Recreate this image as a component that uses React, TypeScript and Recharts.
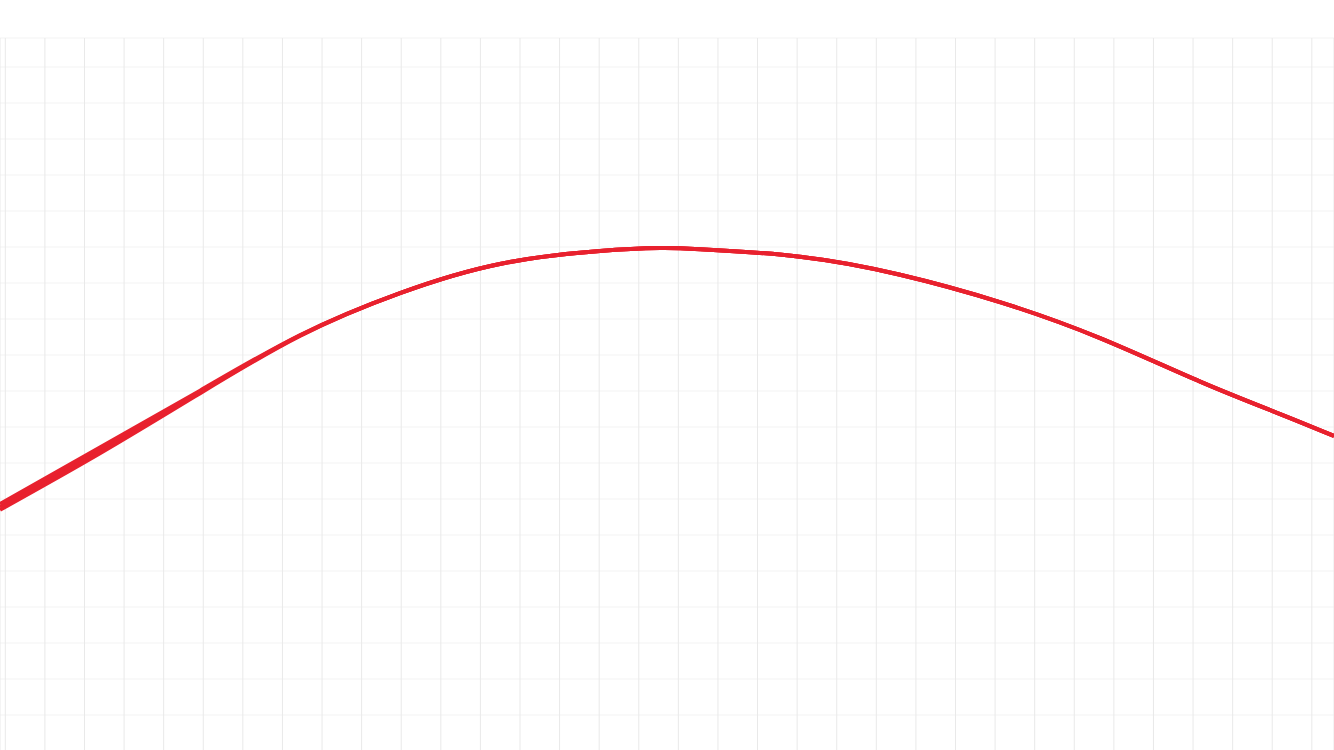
import React from "react";
import { LineChart, Line, XAxis, YAxis, CartesianGrid } from "recharts";

// x positions in grid units, y values in grid units
const xValues = [-0.134, 2.39, 4.92, 7.44, 9.97, 12.49, 15.02, 16.54, 17.55, 20.07, 22.6, 25.12, 27.65, 30.18, 32.2, 33.56];
const mainValues = [6.86, 8.43, 10.01, 11.55, 12.72, 13.53, 13.89, 13.97, 13.94, 13.73, 13.23, 12.47, 11.47, 10.26, 9.36, 8.75];
const midValues = [6.78, 8.35, 9.97, 11.54, 12.72, 13.53, 13.89, 13.97, 13.94, 13.73, 13.23, 12.47, 11.47, 10.26, 9.36, 8.75];
const lowerValues = [6.7, 8.27, 9.94, 11.53, 12.72, 13.53, 13.89, 13.97, 13.94, 13.73, 13.23, 12.47, 11.47, 10.26, 9.36, 8.75];

const xTicks = Array.from({ length: 34 }, (_, i) => i);
const yTicks = Array.from({ length: 20 }, (_, i) => i);

const data = xValues.map((x, i) => ({ x, main: mainValues[i], mid: midValues[i], lower: lowerValues[i] }));

export default function App() {
  return (
    <div style={{ position: "absolute", left: 0, top: 0, width: 1334, height: 750, overflow: "hidden", background: "#fff" }}>
      <LineChart width={1334} height={751} data={data} margin={{ top: 38, right: 0, bottom: 0, left: 0 }}>
        <CartesianGrid horizontal={true} vertical={false} stroke="#f3f3f3" strokeWidth={1} />
        <CartesianGrid horizontal={false} vertical={true} stroke="#e9e9e9" strokeWidth={1} />
        <XAxis type="number" dataKey="x" domain={[-0.134, 33.56]} ticks={xTicks} hide allowDataOverflow />
        <YAxis type="number" domain={[0, 19.806]} ticks={yTicks} hide allowDataOverflow />
        <Line type="natural" dataKey="lower" stroke="#e8212e" strokeWidth={4} dot={false} isAnimationActive={false} />
        <Line type="natural" dataKey="mid" stroke="#e8212e" strokeWidth={4} dot={false} isAnimationActive={false} />
        <Line type="natural" dataKey="main" stroke="#e8212e" strokeWidth={4} dot={false} isAnimationActive={false} />
      </LineChart>
    </div>
  );
}
